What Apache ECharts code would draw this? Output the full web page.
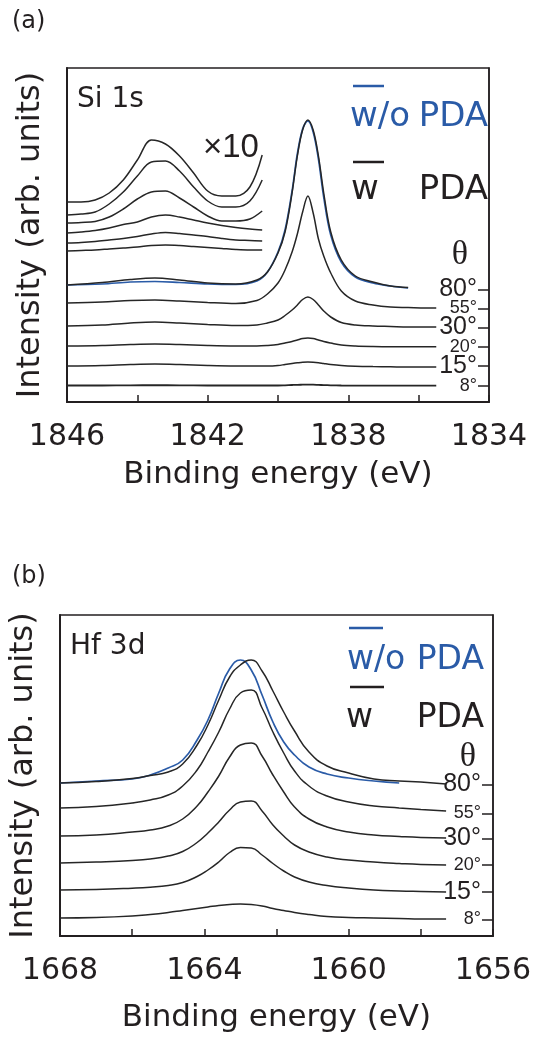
<!DOCTYPE html>
<html>
<head>
<meta charset="utf-8">
<script src="https://cdn.jsdelivr.net/npm/echarts@6/dist/echarts.min.js"></script>
<style>
  html, body { margin: 0; padding: 0; background: #fff; }
  #chart { width: 542px; height: 1037px; }
</style>
</head>
<body>
<div id="chart"></div>
<script>
// ---- panel (a): Si 1s ----
const siEnergy = [1846, 1845, 1844.2, 1843.5, 1842.8, 1842, 1841.2, 1840.6, 1840.3, 1840, 1839.8, 1839.6, 1839.45,
  1839.3, 1839.15, 1839.0, 1838.85, 1838.7, 1838.5, 1838.2, 1837.8, 1837.3, 1836.8, 1836.3, 1835.8, 1835.5]
const siNoPda80 = [117, 118, 120, 120.5, 119.5, 118, 117.5, 121, 130, 150, 172, 211, 248, 273, 281, 270, 243, 205, 167, 140, 125, 119, 116, 114, null, null]
const siPda80 = [117, 119.5, 122.5, 124, 122, 119, 118, 122, 130, 149, 170, 209, 246, 272, 282, 272, 246, 209, 170, 142, 126, 120, 116, 114.5, null, null]
const siPda55 = [99, 100, 101.5, 102, 101, 99.5, 98.5, 101.5, 108, 119, 132, 150, 168, 190, 206, 189, 163, 146, 129, 111, 101, 97, 95, 94.5, 94, 94]
const siPda30 = [76, 77, 79, 80, 79, 77.5, 76.5, 77, 79, 82, 86.5, 92, 97, 102.5, 105, 102.5, 97, 91, 85, 79.5, 77, 76, 75.5, 75, 75, 75]
const siPda20 = [56, 56.5, 57.5, 58, 57.5, 56.5, 56, 56, 56.5, 57.5, 59, 60.5, 62, 63.5, 64, 63.5, 62, 60.5, 59, 57, 56, 55.5, 55.3, 55.3, 55.3, 55.3]
const siPda15 = [36, 36.5, 37.5, 38, 37.5, 36.5, 36, 36, 36, 36.5, 37.5, 38.5, 39.2, 39.8, 40, 39.8, 39.3, 38.5, 37.5, 36.5, 35.8, 35.4, 35.2, 35, 35, 35]
const siPda8 = [16.5, 16.5, 16.7, 16.8, 16.7, 16.5, 16.5, 16.5, 16.5, 16.5, 16.7, 17, 17.2, 17.3, 17.4, 17.3, 17.1, 16.9, 16.7, 16.5, 16.4, 16.3, 16.3, 16.3, 16.3, 16.3]

// x10 magnified part, high-BE side
const siZoomEnergy = [1846, 1845.6, 1845.2, 1844.8, 1844.4, 1844, 1843.6, 1843.2, 1842.8, 1842.4, 1842, 1841.6, 1841.2, 1840.8, 1840.45]
const siZoom1 = [200, 200, 202, 209, 222, 242, 262, 258, 246, 229, 211, 206, 206, 215, 247]
const siZoom2 = [187, 188, 190, 198, 210, 226, 240, 241, 231, 215, 201, 195, 195, 201, 222]
const siZoom3 = [179, 179.5, 180.5, 185, 193, 203, 210, 211, 204, 195, 186, 181, 181, 183, 191]
const siZoom4 = [169, 170, 171.5, 174, 177.5, 180, 185, 187, 185, 182, 179, 176.5, 174.5, 173, 172]
const siZoom5 = [159, 159.5, 160.5, 162, 163.5, 165.5, 168, 169.5, 168.5, 167, 165.5, 163.5, 162, 161.5, 161]
const siZoom6 = [151, 151.5, 152, 153, 154, 155, 156.5, 157, 156.5, 155.5, 154.5, 153.5, 152.5, 152, 152]

// angle levels (8°, 15°, 20°, 30°, 55°, 80°)
const siAngleLevels = [16.3, 36, 55.3, 74.7, 93.7, 112.7]

// ---- panel (b): Hf 3d ----
const hfEnergy = [1668, 1667, 1666, 1665.5, 1665, 1664.6, 1664.2, 1663.9, 1663.6, 1663.3, 1663.0, 1662.7, 1662.4,
  1662.1, 1661.8, 1661.5, 1661.1, 1660.6, 1660, 1659.3, 1658.6, 1658, 1657.3]
const hfNoPda80 = [153, 155, 157, 161, 168, 176, 196, 216, 243, 267, 276, 266, 241, 214, 194, 181, 169, 162, 158, 155, 153, null, null]
const hfPda80 = [153, 154.5, 157.5, 160.5, 164, 172, 191, 211, 236, 259, 271, 276, 265, 245, 224, 205, 184, 170, 163, 157, 155, 154, 152]
const hfPda55 = [128, 129.5, 133, 136, 141, 150, 166, 184, 204, 227, 243, 246, 228, 204, 183, 165, 150, 140, 134, 130, 128, 126.5, 125]
const hfPda30 = [100, 101, 104, 106, 110, 117, 130, 144, 160, 179, 191, 193, 180, 161, 144, 129, 117, 109, 104, 101, 99.5, 98.5, 98]
const hfPda20 = [73, 74, 75.5, 77, 80, 84.5, 93.5, 103, 114, 126, 134, 135, 125, 111, 100, 91, 84, 79, 76, 74, 72.5, 71.5, 71]
const hfPda15 = [46, 46.5, 47.8, 48.8, 50.5, 53.5, 59.5, 66, 74, 83.5, 88.5, 88, 81, 72.5, 65, 59, 54, 50.5, 48, 46, 45, 44.5, 44]
const hfPda8 = [18, 18.5, 20, 21.5, 23.5, 25.5, 27.5, 29, 30.5, 31.5, 32, 31.5, 30, 27.5, 25.5, 23.5, 21.5, 19.5, 18.5, 18, 17.5, 17, 17]

const hfAngleLevels = [16.7, 44.3, 71, 97.7, 122.7, 151.7]

const angleLabels = ['8°', '15°', '20°', '30°', '55°', '80°']
const angleBig = [false, true, false, true, false, true]

const INK = '#231f20'
const LINE = '#262626'
const BLUE = '#2a5ba7'
const SANS = '"DejaVu Sans", sans-serif'

const chart = echarts.init(document.getElementById('chart'), null, { renderer: 'canvas' })

function pts(xs, ys) {
  const out = []
  xs.forEach((x, i) => { if (ys[i] != null) out.push([x, ys[i]]) })
  return out
}

function trace(xs, ys, xi, yi, color, width, smooth, z) {
  return {
    type: 'line', xAxisIndex: xi, yAxisIndex: yi, data: pts(xs, ys),
    showSymbol: false, smooth, silent: true, z: z || 2,
    lineStyle: { color, width }
  }
}

function xAxisFor(gi, min, max, mod, nameGap) {
  return {
    type: 'value', gridIndex: gi, min, max, inverse: true, interval: 2,
    axisLine: { show: true, lineStyle: { color: INK, width: 2 } },
    axisTick: { show: true, inside: true, length: 7, lineStyle: { color: INK, width: 1.5 } },
    axisLabel: {
      fontSize: 30, fontFamily: SANS, color: INK, margin: 20, showMinLabel: true, showMaxLabel: true,
      formatter: v => (v % 4 === mod ? String(v) : '')
    },
    splitLine: { show: false },
    name: 'Binding energy (eV)', nameLocation: 'middle', nameGap,
    nameTextStyle: { fontSize: 31, fontFamily: SANS, color: INK }
  }
}

function yLeft(gi, max) {
  return {
    type: 'value', gridIndex: gi, min: 0, max,
    axisLine: { show: true, lineStyle: { color: INK, width: 2 } },
    axisTick: { show: false }, axisLabel: { show: false }, splitLine: { show: false },
    name: 'Intensity (arb. units)', nameLocation: 'middle', nameGap: 20,
    nameTextStyle: { fontSize: 32, fontFamily: SANS, color: INK }
  }
}

// right-hand angle axis; big and small labels go on two axes so none get hidden
function yRight(gi, max, levels, big) {
  const vals = levels.filter((v, i) => angleBig[i] === big)
  return {
    type: 'value', gridIndex: gi, min: 0, max, position: 'right',
    axisLine: { show: big, lineStyle: { color: INK, width: 1.5 } },
    axisTick: { show: big, inside: true, length: 11, customValues: levels, lineStyle: { color: INK, width: 1.5 } },
    axisLabel: {
      show: true, inside: true, margin: 12, customValues: vals,
      showMinLabel: true, showMaxLabel: true, hideOverlap: false,
      fontSize: big ? 25 : 18, fontFamily: 'Liberation Sans', color: INK,
      formatter: v => {
        const i = levels.indexOf(v)
        return i < 0 ? '' : angleLabels[i]
      }
    },
    splitLine: { show: false }
  }
}

function txt(text, x, y, size, color, align, family) {
  return {
    type: 'text', silent: true, z: 10,
    style: {
      text, x, y, fill: color || INK, font: size + 'px ' + (family || SANS),
      align: align || 'left', verticalAlign: 'middle',
      textAlign: align || 'left', textVerticalAlign: 'middle'
    }
  }
}

function seg(x1, x2, y, color) {
  return { type: 'line', silent: true, z: 10, shape: { x1, y1: y, x2, y2: y }, style: { stroke: color, lineWidth: 2.5 } }
}

const W = 1.5
const series = [
  trace(siEnergy, siNoPda80, 0, 0, BLUE, 1.7, 0.35, 1),
  trace(siEnergy, siPda80, 0, 0, LINE, W, 0.35),
  trace(siEnergy, siPda55, 0, 0, LINE, W, 0.35),
  trace(siEnergy, siPda30, 0, 0, LINE, W, 0.35),
  trace(siEnergy, siPda20, 0, 0, LINE, W, 0.35),
  trace(siEnergy, siPda15, 0, 0, LINE, W, 0.35),
  trace(siEnergy, siPda8, 0, 0, LINE, 1.8, 0.35),
  trace(siZoomEnergy, siZoom1, 0, 0, LINE, W, 0.35),
  trace(siZoomEnergy, siZoom2, 0, 0, LINE, W, 0.35),
  trace(siZoomEnergy, siZoom3, 0, 0, LINE, W, 0.35),
  trace(siZoomEnergy, siZoom4, 0, 0, LINE, W, 0.35),
  trace(siZoomEnergy, siZoom5, 0, 0, LINE, W, 0.35),
  trace(siZoomEnergy, siZoom6, 0, 0, LINE, W, 0.35),
  trace(hfEnergy, hfNoPda80, 1, 3, BLUE, 1.7, 0.5, 1),
  trace(hfEnergy, hfPda80, 1, 3, LINE, W, 0.5),
  trace(hfEnergy, hfPda55, 1, 3, LINE, W, 0.5),
  trace(hfEnergy, hfPda30, 1, 3, LINE, W, 0.5),
  trace(hfEnergy, hfPda20, 1, 3, LINE, W, 0.5),
  trace(hfEnergy, hfPda15, 1, 3, LINE, W, 0.5),
  trace(hfEnergy, hfPda8, 1, 3, LINE, W, 0.5)
]

chart.setOption({
  animation: false,
  backgroundColor: '#fff',
  textStyle: { fontFamily: SANS },
  grid: [
    { left: 67, top: 68, width: 422, height: 334, show: true, borderColor: INK, borderWidth: 1.5, containLabel: false },
    { left: 60, top: 615, width: 433, height: 321, show: true, borderColor: INK, borderWidth: 1.5, containLabel: false }
  ],
  xAxis: [
    xAxisFor(0, 1834, 1846, 2, 57),
    xAxisFor(1, 1656, 1668, 0, 66)
  ],
  yAxis: [
    yLeft(0, 334),
    yRight(0, 334, siAngleLevels, true),
    yRight(0, 334, siAngleLevels, false),
    yLeft(1, 321),
    yRight(1, 321, hfAngleLevels, true),
    yRight(1, 321, hfAngleLevels, false)
  ],
  graphic: [
    txt('(a)', 12, 22, 24),
    txt('(b)', 12, 577, 24),
    txt('Si 1s', 77, 100, 28),
    txt('×10', 203, 148, 33, INK, 'left', 'Liberation Sans'),
    seg(353, 384, 86, BLUE),
    txt('w/o', 350, 117, 34, BLUE),
    txt('PDA', 488, 117, 34, BLUE, 'right'),
    seg(353, 384, 162, INK),
    txt('w', 351, 190, 34),
    txt('PDA', 488, 190, 34, INK, 'right'),
    txt('θ', 460, 255, 34, INK, 'center', '"Liberation Serif", serif'),
    txt('Hf 3d', 70, 647, 28),
    seg(349, 383, 628, BLUE),
    txt('w/o', 347, 660, 33, BLUE),
    txt('PDA', 484, 660, 33, BLUE, 'right'),
    seg(350, 384, 687, INK),
    txt('w', 346, 718, 33),
    txt('PDA', 484, 718, 33, INK, 'right'),
    txt('θ', 468, 757, 34, INK, 'center', '"Liberation Serif", serif')
  ],
  series
})

window.addEventListener('resize', () => chart.resize())
</script>
</body>
</html>
